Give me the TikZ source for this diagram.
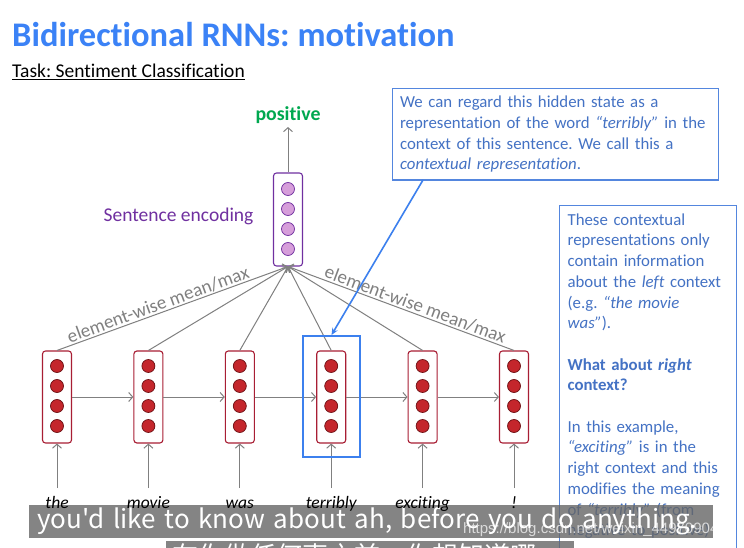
\documentclass[tikz,border=0pt]{standalone}
\usepackage{fontspec}
\setmainfont{Carlito}[Ligatures=NoCommon]
\newfontfamily\cjk{Noto Sans CJK SC}
\newfontfamily\wmfont{Liberation Sans}
\usetikzlibrary{arrows.meta,positioning}
\frenchspacing

\definecolor{titleblue}{RGB}{59,130,246}
\definecolor{noteblue}{RGB}{68,114,196}
\definecolor{edgeblue}{RGB}{84,134,222}
\definecolor{hlblue}{RGB}{60,128,238}
\definecolor{cellred}{RGB}{168,30,52}
\definecolor{dotred}{RGB}{196,38,44}
\definecolor{dotedge}{RGB}{110,16,20}
\definecolor{encpurple}{RGB}{112,48,160}
\definecolor{encdot}{RGB}{214,158,218}
\definecolor{posgreen}{RGB}{0,168,80}
\definecolor{linegray}{RGB}{128,128,128}

\newcommand\pxfont[1]{\fontsize{#1}{#1}\selectfont}

\begin{document}
\begin{tikzpicture}[x=1pt,y=-1pt,
    cell/.style={draw=cellred, fill=white, rounded corners=3pt, line width=1.1pt,
                 minimum width=29pt, minimum height=92pt, inner sep=0pt},
    enccell/.style={cell, draw=encpurple},
    dot/.style={circle, draw=dotedge, fill=dotred, line width=0.7pt,
                minimum size=13pt, inner sep=0pt},
    encdotstyle/.style={dot, draw=encpurple, fill=encdot},
    arr/.style={draw=linegray, line width=1pt, -{Straight Barb[length=4pt,width=9pt]}},
    word/.style={anchor=base, font=\pxfont{17.5}\itshape},
    meanlabel/.style={text=linegray, font=\pxfont{19}, sloped, above, inner sep=1.5pt},
    notebox/.style={draw=edgeblue, line width=1.2pt, fill=white, text=noteblue,
                    anchor=north west, inner sep=7.5pt, align=left,
                    font=\fontsize{16.8}{20.7}\selectfont},
    subbar/.style={fill=black!60, fill opacity=0.8, text opacity=1, text=white,
                   anchor=north west, inner sep=0pt}
    ]
    \clip (0,0) rectangle (744,548);
    \fill[white] (0,0) rectangle (744,548);

    % heading
    \node[anchor=base west, text=titleblue, font=\pxfont{34.5}\bfseries, inner sep=0pt] (title) at (12,47) {Bidirectional RNNs: motivation};
    \node[anchor=base west, font=\pxfont{19.5}, inner sep=0pt] (task) at (12,78) {\underline{Task: Sentiment Classification}};

    % callouts
    \node[notebox, text width=311pt] (note) at (392,88) {We can regard this hidden state as a\\
        representation of the word \textit{“terribly”} in the\\
        context of this sentence. We call this a\\
        \textit{contextual representation}.};

    \node[notebox, text width=161pt, inner sep=8pt] (side) at (559,205) {These contextual\\
        representations only\\
        contain information\\
        about the \textit{left} context\\
        (e.g. \textit{“the movie}\\
        \textit{was”}).\\
        ~\\
        \textbf{What about \textit{right}}\\
        \textbf{context?}\\
        ~\\
        In this example,\\
        \textit{“exciting”} is in the\\
        right context and this\\
        modifies the meaning\\
        of \textit{“terribly”} (from\\
        negative to positive)\\
        ~\\
        ~};

    % video subtitles and watermark
    \node[subbar, minimum width=676pt, minimum height=33pt, text width=668pt, inner xsep=8pt, align=left,
          font=\cjk\pxfont{26}] (sub1) at (29,505) {you'd like to know about ah, before you do anything.};
    \node[subbar, minimum width=404pt, minimum height=30pt, text width=396pt, inner xsep=6pt, align=left,
          font=\cjk\pxfont{26}] (sub2) at (166,541) {在你做任何事之前，你想知道哪};
    \node[anchor=base west, text=white, opacity=0.7, font=\wmfont\pxfont{15}, inner sep=0pt] (mark) at (463,533) {https://blog.csdn.net/weixin\_44970904};

    % forward RNN over the sentence
    \foreach \w [count=\i from 0] in {the,movie,was,terribly,exciting,!} {
        \node[cell] (h\i) at ({57+91.4*\i},397) {};
        \foreach \k in {1,...,4}
            \node[dot] (h\i d\k) at ({57+91.4*\i},{366+20*(\k-1)}) {};
        \node[word] (w\i) at ({57+91.4*\i},508) {\w};
        \coordinate (in\i) at ({57+91.4*\i},488);
        \draw[arr] (in\i) -- (h\i);
    }
    \foreach \i [evaluate=\i as \j using int(\i+1)] in {0,...,4}
        \draw[arr] (h\i) -- (h\j);

    % sentence encoding
    \node[enccell, minimum height=93pt] (enc) at (288,219.5) {};
    \foreach \k in {1,...,4}
        \node[encdotstyle] (enc d\k) at (288,{189+20*(\k-1)}) {};
    \node[left=16pt of enc, text=encpurple, font=\pxfont{19.5}, yshift=3pt] (enclabel) {Sentence encoding};
    \node[text=posgreen, font=\pxfont{19.8}\bfseries] (pos) at (288,115) {positive};
    \draw[arr] (enc) -- (pos);

    \foreach \i in {0,...,5}
        \draw[arr] (h\i.north) -- (enc.south);
    \path (h0.north) -- (enc.south) node[meanlabel, pos=0.45] {element-wise mean/max};
    \path (h5.north) -- (enc.south) node[meanlabel, pos=0.45] {element-wise mean/max};

    % highlighted hidden state
    \node[draw=hlblue, line width=2pt, minimum width=57pt, minimum height=121pt, inner sep=0pt] (hl) at (331.5,396.5) {};
    \coordinate (notefoot) at (423,180);
    \draw[draw=hlblue, line width=1.6pt, -{Stealth[length=7pt,width=6pt]}] (notefoot) -- (hl.north);
\end{tikzpicture}
\end{document}
